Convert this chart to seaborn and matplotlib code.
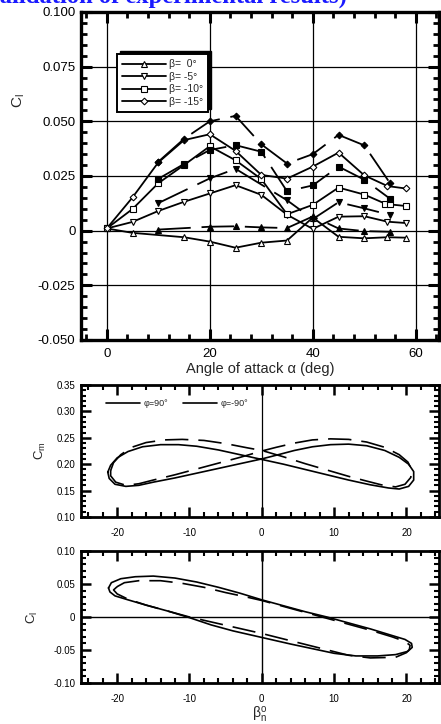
import numpy as np
import pandas as pd
import matplotlib
matplotlib.use("Agg")
import matplotlib.pyplot as plt
import seaborn as sns
from matplotlib.ticker import MultipleLocator, FixedLocator, FixedFormatter, FormatStrFormatter
from matplotlib.lines import Line2D
from matplotlib.patches import Rectangle
from matplotlib.transforms import IdentityTransform

# ---------------- data: top panel (C_l vs angle of attack) ----------------
# open markers, solid lines
a_b0 = [0, 5, 15, 20, 25, 30, 35, 40, 45, 50, 54.5, 58]
cl_b0 = [0.001, -0.001, -0.003, -0.005, -0.0078, -0.0055, -0.0045, 0.006, -0.0028, -0.0035, -0.003, -0.0032]
a_b5 = [0, 5, 10, 15, 20, 25, 30, 35, 40, 45, 50, 54.5, 58]
cl_b5 = [0.001, 0.004, 0.009, 0.0132, 0.017, 0.0208, 0.0164, 0.0073, 0.0008, 0.0064, 0.0066, 0.0041, 0.0035]
a_b10 = [0, 5, 10, 15, 20, 25, 30, 35, 40, 45, 50, 54, 55, 58]
cl_b10 = [0.001, 0.0099, 0.0217, 0.030, 0.0386, 0.0322, 0.0236, 0.0075, 0.0118, 0.0197, 0.0165, 0.0124, 0.0120, 0.0113]
a_b15 = [0, 5, 10, 15, 20, 25, 30, 35, 40, 45, 50, 54.5, 58]
cl_b15 = [0.001, 0.0152, 0.0312, 0.0414, 0.0441, 0.0365, 0.0255, 0.0238, 0.0293, 0.0357, 0.0253, 0.0204, 0.0193]
# filled markers, long-dashed lines
fa_b0 = [10, 20, 25, 30, 35, 40, 45, 50, 55]
fcl_b0 = [0.0005, 0.0018, 0.002, 0.0015, 0.0012, 0.0065, 0.001, -0.0002, -0.0005]
fa_b5 = [10, 20, 25, 35, 40, 45, 50, 55]
fcl_b5 = [0.0126, 0.0239, 0.0283, 0.0139, 0.0053, 0.013, 0.0102, 0.0072]
fa_b10 = [10, 15, 20, 25, 30, 35, 40, 45, 50, 55]
fcl_b10 = [0.0237, 0.0305, 0.0369, 0.0391, 0.0361, 0.018, 0.0207, 0.0293, 0.0233, 0.0146]
fa_b15 = [10, 15, 20, 25, 30, 35, 40, 45, 50, 55]
fcl_b15 = [0.0315, 0.042, 0.050, 0.0525, 0.0395, 0.0307, 0.035, 0.0438, 0.039, 0.0217]
beta_labels = ["\u03b2=  0\u00b0", "\u03b2= -5\u00b0", "\u03b2= -10\u00b0", "\u03b2= -15\u00b0"]

x_ticks_top = [0, 20, 40, 60]
y_ticks_top = [-0.050, -0.025, 0.0, 0.025, 0.050, 0.075, 0.100]
y_ticklabels_top = ["-0.050", "-0.025", "0", "0.025", "0.050", "0.075", "0.100"]

# ---------------- data: middle panel (C_m loops) ----------------
beta_m_s = [-21.3, -20.9, -20.0, -18.5, -16.5, -14.0, -11.5, -9.0, -6.0, -3.0, 0.0, 3.0, 6.0, 9.0, 12.0,
            15.0, 17.5, 19.0, 20.3, 21.0, 21.0, 20.3, 19.0, 17.0, 14.5, 12.0, 9.5, 7.0, 4.5, 2.0, 0.0,
            -3.0, -6.0, -9.0, -12.0, -15.0, -17.0, -18.8, -20.3, -21.1, -21.3]
cm_s = [0.185, 0.198, 0.212, 0.224, 0.233, 0.237, 0.237, 0.234, 0.227, 0.218, 0.209, 0.200, 0.190,
        0.180, 0.170, 0.161, 0.155, 0.153, 0.158, 0.170, 0.186, 0.200, 0.213, 0.226, 0.235, 0.238,
        0.237, 0.233, 0.226, 0.217, 0.210, 0.201, 0.192, 0.183, 0.174, 0.166, 0.160, 0.158, 0.162,
        0.173, 0.185]
beta_m_d = [-20.9, -20.5, -19.5, -18.0, -16.0, -13.5, -11.0, -8.0, -5.0, -2.0, 0.0, 3.0, 6.0, 9.0, 12.0,
            14.5, 16.5, 18.5, 19.8, 20.6, 20.7, 20.2, 19.0, 17.0, 14.5, 12.0, 9.5, 7.0, 4.5, 2.0, 0.0,
            -3.0, -6.0, -9.0, -12.0, -15.0, -17.0, -18.8, -20.2, -20.9, -20.9]
cm_d = [0.188, 0.203, 0.218, 0.232, 0.241, 0.246, 0.247, 0.245, 0.239, 0.231, 0.226, 0.214, 0.201,
        0.189, 0.177, 0.168, 0.161, 0.157, 0.162, 0.175, 0.190, 0.204, 0.218, 0.232, 0.242, 0.247,
        0.248, 0.246, 0.240, 0.232, 0.225, 0.213, 0.202, 0.191, 0.180, 0.170, 0.163, 0.160, 0.166,
        0.178, 0.188]

# ---------------- data: bottom panel (C_l loops) ----------------
beta_l_s = [-21.2, -20.8, -19.5, -17.5, -15.0, -12.0, -9.0, -6.0, -3.0, 0.0, 3.0, 6.0, 9.0, 12.0, 15.0,
            18.0, 19.8, 20.7, 20.8, 20.2, 18.5, 16.0, 13.0, 10.0, 7.0, 4.0, 0.0, -4.0, -7.0, -10.0,
            -13.0, -16.0, -18.5, -20.3, -21.0, -21.2]
cl_s = [0.044, 0.052, 0.058, 0.061, 0.062, 0.059, 0.053, 0.045, 0.036, 0.026, 0.017, 0.008, 0.000,
        -0.009, -0.018, -0.028, -0.034, -0.040, -0.046, -0.052, -0.057, -0.059, -0.059, -0.055,
        -0.048, -0.041, -0.031, -0.021, -0.012, -0.001, 0.009, 0.018, 0.026, 0.032, 0.038, 0.044]
beta_l_d = [-20.0, -19.0, -17.0, -14.0, -11.0, -8.0, -5.0, -2.0, 0.0, 3.0, 6.0, 9.0, 12.0, 15.0, 18.0,
            19.8, 20.5, 20.4, 20.0, 18.5, 15.0, 12.0, 8.0, 4.0, 0.0, -4.0, -8.0, -10.0, -13.0, -16.0,
            -18.5, -20.0, -20.5, -20.0]
cl_d = [0.046, 0.052, 0.055, 0.055, 0.051, 0.045, 0.037, 0.030, 0.025, 0.016, 0.007, -0.002, -0.011,
        -0.020, -0.030, -0.037, -0.043, -0.049, -0.054, -0.061, -0.062, -0.058, -0.047, -0.036,
        -0.025, -0.015, -0.005, 0.000, 0.009, 0.018, 0.027, 0.035, 0.041, 0.046]
phi_labels = ["\u03c6=90\u00b0", "\u03c6=-90\u00b0"]

# ---------------- style ----------------
sns.set_theme(style="ticks")
plt.rcParams['font.family'] = ['Liberation Sans', 'DejaVu Sans']
plt.rcParams['mathtext.fontset'] = 'custom'
plt.rcParams['mathtext.rm'] = 'Liberation Sans'
plt.rcParams['mathtext.it'] = 'Liberation Sans:italic'
plt.rcParams['axes.edgecolor'] = 'black'
plt.rcParams['xtick.color'] = 'black'
plt.rcParams['ytick.color'] = 'black'
plt.rcParams['axes.unicode_minus'] = False

W, H = 441, 724
fig = plt.figure(figsize=(W / 100, H / 100), dpi=100)
fig.patch.set_facecolor('white')

def frac(l, t, r, b):
    return [l / W, 1 - b / H, (r - l) / W, (b - t) / H]

LONGDASH = (0, (18, 6))

def style_axes(ax, lw, maj_len, min_len, maj_w, min_w, lab_size):
    for s in ax.spines.values():
        s.set_linewidth(lw)
        s.set_color('black')
    ax.tick_params(which='both', direction='in', top=True, right=True, colors='black')
    ax.tick_params(which='major', length=maj_len, width=maj_w, labelsize=lab_size, pad=4)
    ax.tick_params(which='minor', length=min_len, width=min_w)
    ax.set_facecolor('white')

# ---------------- top panel ----------------
ax1 = fig.add_axes(frac(81, 12, 439, 340))
open_series = [(a_b0, cl_b0, '^'), (a_b5, cl_b5, 'v'), (a_b10, cl_b10, 's'), (a_b15, cl_b15, 'D')]
filled_series = [(fa_b0, fcl_b0, '^'), (fa_b5, fcl_b5, 'v'), (fa_b10, fcl_b10, 's'), (fa_b15, fcl_b15, 'D')]
for xs, ys, mk in open_series:
    sns.lineplot(x=xs, y=ys, ax=ax1, color='black', lw=1.3, marker=mk,
                 markersize=4.2 if mk != 'D' else 3.4, markerfacecolor='white',
                 markeredgecolor='black', markeredgewidth=0.8, estimator=None, zorder=3)
for xs, ys, mk in filled_series:
    sns.lineplot(x=xs, y=ys, ax=ax1, color='black', lw=1.3, marker=mk, linestyle=LONGDASH,
                 markersize=4.2 if mk != 'D' else 3.4, markerfacecolor='black',
                 markeredgecolor='black', markeredgewidth=0.8, estimator=None, zorder=3)
ax1.set_xlim(-5, 64.5)
ax1.set_ylim(-0.05, 0.1)
ax1.xaxis.set_major_locator(FixedLocator(x_ticks_top))
ax1.xaxis.set_minor_locator(MultipleLocator(4))
ax1.yaxis.set_major_locator(FixedLocator(y_ticks_top))
ax1.yaxis.set_major_formatter(FixedFormatter(y_ticklabels_top))
ax1.yaxis.set_minor_locator(MultipleLocator(0.005))
ax1.grid(True, which='major', color='black', lw=0.9)
style_axes(ax1, 2.4, 8, 4.5, 2.2, 2.0, 9.5)
ax1.tick_params(axis='x', pad=6)
ax1.set_xlabel("Angle of attack \u03b1 (deg)", fontsize=10.5, labelpad=1)
ax1.set_ylabel(r"C$_\mathrm{l}$", fontsize=11)
ax1.yaxis.set_label_coords(-0.150, 0.73)
handles = [Line2D([], [], color='black', lw=1.3, marker=mk, markersize=4.2 if mk != 'D' else 3.4,
                  markerfacecolor='white', markeredgecolor='black', markeredgewidth=0.8)
           for _, _, mk in open_series]
leg = ax1.legend(handles, beta_labels, loc='upper left', bbox_to_anchor=(0.10, 0.872),
                 borderaxespad=0, fontsize=7.5, handlelength=4.2, handletextpad=0.3,
                 labelspacing=0.25, borderpad=0.5, frameon=True, fancybox=False,
                 edgecolor='black', framealpha=1)
leg.get_frame().set_linewidth(1.4)
leg.set_zorder(5)

# ---------------- middle panel ----------------
ax2 = fig.add_axes(frac(81, 385, 439, 517))
ax2.axvline(0, color='black', lw=0.9, zorder=1)
sns.lineplot(x=beta_m_s, y=cm_s, ax=ax2, sort=False, estimator=None, color='black', lw=1.2)
sns.lineplot(x=beta_m_d, y=cm_d, ax=ax2, sort=False, estimator=None, color='black', lw=1.2,
             linestyle=(0, (14, 6)))
ax2.set_xlim(-25, 24.5)
ax2.set_ylim(0.10, 0.35)
ax2.xaxis.set_major_locator(MultipleLocator(10))
ax2.xaxis.set_minor_locator(MultipleLocator(2))
ax2.yaxis.set_major_locator(MultipleLocator(0.05))
ax2.yaxis.set_minor_locator(MultipleLocator(0.01))
ax2.yaxis.set_major_formatter(FormatStrFormatter('%.2f'))
style_axes(ax2, 2.0, 7, 3.5, 1.8, 1.5, 7)
ax2.tick_params(axis='x', pad=8)
ax2.set_ylabel(r"C$_\mathrm{m}$", fontsize=9.5, labelpad=6)
h2 = [Line2D([], [], color='black', lw=1.2), Line2D([], [], color='black', lw=1.2)]
ax2.legend(h2, phi_labels, loc='upper left', bbox_to_anchor=(0.06, 0.92), borderaxespad=0,
           ncol=2, frameon=False, fontsize=6.5, handlelength=3.8, handletextpad=0.4,
           columnspacing=1.6)

# ---------------- bottom panel ----------------
ax3 = fig.add_axes(frac(81, 551, 439, 683))
ax3.axvline(0, color='black', lw=1.0, zorder=1)
ax3.axhline(0, color='black', lw=1.0, zorder=1)
sns.lineplot(x=beta_l_s, y=cl_s, ax=ax3, sort=False, estimator=None, color='black', lw=1.2)
sns.lineplot(x=beta_l_d, y=cl_d, ax=ax3, sort=False, estimator=None, color='black', lw=1.2,
             linestyle=(0, (14, 6)))
ax3.set_xlim(-25, 24.5)
ax3.set_ylim(-0.10, 0.10)
ax3.xaxis.set_major_locator(MultipleLocator(10))
ax3.xaxis.set_minor_locator(MultipleLocator(2))
ax3.yaxis.set_major_locator(FixedLocator([-0.10, -0.05, 0.0, 0.05, 0.10]))
ax3.yaxis.set_major_formatter(FixedFormatter(["-0.10", "-0.05", "0", "0.05", "0.10"]))
ax3.yaxis.set_minor_locator(MultipleLocator(0.01))
style_axes(ax3, 2.0, 7, 3.5, 1.8, 1.5, 7)
ax3.tick_params(axis='x', pad=8)
ax3.set_ylabel(r"C$_\mathrm{l}$", fontsize=9.5, labelpad=10)
ax3.set_xlabel(r"$\mathrm{\beta}^{\mathrm{o}}_{\mathrm{n}}$", fontsize=10, labelpad=1)

# ---------------- cut-off title ----------------
fig.text(347 / W, 1 - 3 / H, "(Validation of experimental results)", ha='right', va='baseline',
         color='#1a1aff', fontsize=17.7, fontweight='bold', family=['Liberation Serif', 'DejaVu Serif'])

# legend shadow (thick top/right edge)
fig.canvas.draw()
bb = leg.get_window_extent()
shadow = Rectangle((bb.x0 + 3, bb.y0 + 3), bb.width, bb.height, transform=IdentityTransform(),
                   facecolor='black', edgecolor='black', zorder=4.9, clip_on=False)
ax1.add_artist(shadow)

fig.savefig('out.png', dpi=100, facecolor='white')
